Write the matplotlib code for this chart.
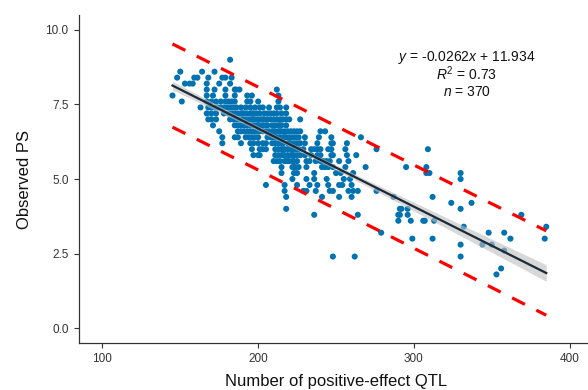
import numpy as np
import matplotlib
matplotlib.use("Agg")
import matplotlib.pyplot as plt

plt.rcParams['font.family'] = ['Liberation Sans', 'DejaVu Sans']
plt.rcParams['mathtext.fontset'] = 'custom'
plt.rcParams['mathtext.rm'] = 'Liberation Sans'
plt.rcParams['mathtext.it'] = 'Liberation Sans:italic'

# observed PS levels and the QTL counts found at each level
rows = {
    9.0: [182],
    8.6: [150, 164, 172],
    8.4: [148, 159, 161, 168, 177, 179, 183],
    8.2: [153, 156, 158, 167, 175, 182],
    8.0: [167, 172, 179, 185, 186, 188, 212],
    7.8: [145, 167, 171, 179, 185, 193, 196, 213],
    7.6: [151, 167, 170, 173, 176, 179, 181, 183, 185, 193, 195, 200, 213],
    7.4: [163, 168, 170, 172, 174, 176, 178, 180, 182, 184, 186, 189, 192, 195,
          198, 201, 203, 207, 212, 214, 218],
    7.2: [167, 170, 173, 178, 181, 183, 185, 187, 189, 191, 193, 195, 197, 199,
          201, 204, 206, 208, 210, 212, 215, 218, 190, 196],
    7.0: [168, 170, 173, 182, 184, 186, 188, 190, 192, 194, 196, 198, 200, 202,
          204, 206, 208, 210, 212, 214, 216, 218, 220, 227, 197, 203],
    6.8: [171, 185, 187, 189, 191, 193, 195, 197, 199, 201, 203, 206, 209, 211,
          213, 214, 215, 218, 200, 205],
    6.6: [175, 187, 189, 191, 193, 195, 197, 199, 201, 203, 205, 207, 209, 211,
          213, 215, 217, 219, 221, 223, 225, 227, 240, 243, 210, 214],
    6.4: [177, 185, 187, 192, 194, 196, 198, 200, 206, 208, 210, 212, 214, 216,
          218, 220, 222, 224, 226, 230, 239, 247, 266, 211, 217],
    6.2: [177, 189, 195, 197, 200, 203, 205, 209, 211, 213, 215, 216, 219, 221,
          223, 225, 227, 230, 238, 247, 248, 257, 214, 220],
    6.0: [196, 201, 203, 205, 211, 213, 215, 217, 219, 222, 224, 226, 229, 234,
          236, 238, 240, 245, 247, 256, 276, 309, 216, 221],
    5.8: [197, 200, 201, 211, 213, 215, 217, 219, 221, 223, 225, 227, 230, 234,
          238, 240, 247, 248, 257, 263, 216, 222],
    5.6: [210, 212, 214, 217, 219, 222, 223, 225, 231, 233, 237, 240, 242, 244,
          246, 252, 258, 218, 220],
    5.4: [215, 222, 224, 226, 231, 241, 243, 245, 248, 256, 269, 295, 308, 223],
    5.2: [215, 223, 225, 236, 250, 253, 261, 308, 310, 330],
    5.0: [222, 231, 236, 244, 255, 259, 330],
    4.8: [205, 217, 225, 233, 238, 245, 252, 254, 260],
    4.6: [217, 229, 231, 237, 246, 248, 258, 261, 264, 276],
    4.4: [218, 241, 252, 260, 287, 312],
    4.2: [324, 337],
    4.0: [218, 291, 292, 296, 330],
    3.8: [236, 264, 290, 291, 296, 369],
    3.6: [290, 298, 306, 307, 313],
    3.4: [332, 385],
    3.2: [279, 348, 358],
    3.0: [299, 312, 362, 384],
    2.8: [330, 344, 350],
    2.6: [358],
    2.4: [248, 262, 330],
    2.0: [356],
    1.8: [353],
}

qtl = np.array([x for y, xs in rows.items() for x in xs], dtype=float)
ps = np.array([y for y, xs in rows.items() for x in xs], dtype=float)

slope = -0.0262
intercept = 11.934
r2 = 0.73
n_lines = 370

# fit band / prediction interval from the points around the printed line
n = len(qtl)
resid = ps - (intercept + slope * qtl)
s = np.sqrt(np.sum(resid ** 2) / (n - 2))
xbar = qtl.mean()
sxx = np.sum((qtl - xbar) ** 2)
xx = np.linspace(qtl.min(), qtl.max(), 200)
yy = intercept + slope * xx
t = 1.966
se_fit = s * np.sqrt(1 / n + (xx - xbar) ** 2 / sxx)
se_pred = s * np.sqrt(1 + 1 / n + (xx - xbar) ** 2 / sxx)

fig = plt.figure(figsize=(5.88, 3.9), dpi=100)
ax = fig.add_axes([0.1344, 0.1205, 0.8741, 0.8410])

ax.scatter(qtl, ps, s=19, color='#0072B2', edgecolors='none', zorder=2)
ax.fill_between(xx, yy - t * se_fit, yy + t * se_fit, color='#BEBEBE',
                alpha=0.6, linewidth=0, zorder=3)
ax.plot(xx, yy, color='#1B2A38', linewidth=1.6, zorder=4)
ax.plot(xx, yy + t * se_pred, color='#FF0000', linewidth=2.3,
        dashes=(4.5, 4), zorder=5)
ax.plot(xx, yy - t * se_pred, color='#FF0000', linewidth=2.3,
        dashes=(4.5, 4), zorder=5)

ax.text(334, 9.09, r'$y$ = -0.0262$x$ + 11.934', ha='center', va='center',
        fontsize=10, color='#111111')
ax.text(334, 8.52, r'$R^2$ = %.2f' % r2, ha='center', va='center',
        fontsize=10, color='#111111')
ax.text(334, 7.92, r'$n$ = %d' % n_lines, ha='center', va='center',
        fontsize=10, color='#111111')

ax.set_xlim(85, 415)
ax.set_ylim(-0.5, 10.5)
ax.set_xticks([100, 200, 300, 400])
ax.set_yticks([0.0, 2.5, 5.0, 7.5, 10.0])
ax.set_yticklabels(['0.0', '2.5', '5.0', '7.5', '10.0'])
ax.tick_params(labelsize=8.5, colors='#333333', length=3.5, width=0.8,
               pad=4, labelcolor='#333333')
for side in ['top', 'right']:
    ax.spines[side].set_visible(False)
for side in ['left', 'bottom']:
    ax.spines[side].set_color('#333333')
    ax.spines[side].set_linewidth(0.9)

ax.set_xlabel('Number of positive-effect QTL', fontsize=12, color='#111111',
              labelpad=6)
ax.set_ylabel('Observed PS', fontsize=12, color='#111111', labelpad=10)

fig.savefig('out.png', dpi=100)
